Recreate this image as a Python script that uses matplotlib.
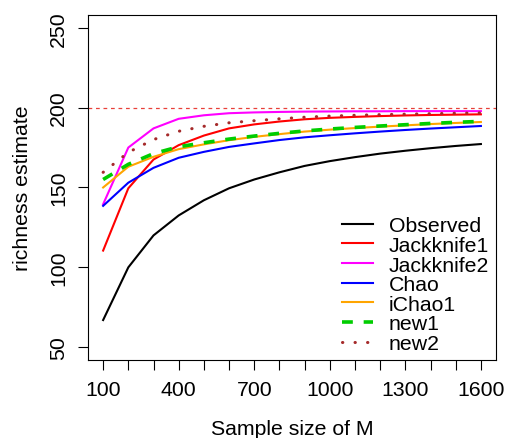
import numpy as np
import matplotlib
matplotlib.use("Agg")
import matplotlib.pyplot as plt
from matplotlib.lines import Line2D

plt.rcParams['font.family'] = ['Liberation Sans', 'DejaVu Sans']

# sample sizes
sample_size = list(range(100, 1700, 100))

observed = [67, 100, 120, 132.5, 142, 149.5, 155, 159.5, 163.5, 166.5, 169, 171.2, 173, 174.6, 176, 177.2]
jackknife1 = [110.5, 149.5, 167.5, 176.5, 182.5, 187, 189.5, 191.3, 192.7, 193.6, 194.2, 194.7, 195.1, 195.4, 195.6, 195.8]
jackknife2 = [139.5, 175, 187, 193, 195.2, 196.5, 197, 197.3, 197.5, 197.6, 197.7, 197.7, 197.8, 197.8, 197.8, 197.8]
chao = [138.5, 153, 162.3, 168.6, 172.3, 175.4, 177.6, 179.7, 181.4, 182.7, 183.9, 185, 186, 186.9, 187.7, 188.5]
ichao1 = [150, 163, 169.2, 174, 177, 179.6, 181.7, 183.4, 185, 186.2, 187.2, 188.1, 188.9, 189.7, 190.4, 191]
new1 = [155, 164.5, 171.2, 175.5, 178, 180.3, 182.2, 183.9, 185.4, 186.6, 187.6, 188.5, 189.3, 190.1, 190.8, 191.4]
new2 = [159.5, 172, 180, 185.2, 188.3, 190.5, 191.8, 193, 194, 194.7, 195.2, 195.6, 195.9, 196.2, 196.5, 196.7]

true_richness = 200
fs = 15.3

fig = plt.figure(figsize=(5.05, 4.39), dpi=100)
ax = fig.add_axes([0.1743, 0.1777, 0.8079, 0.7859])

ax.axhline(true_richness, color='#E8403A', lw=0.9, ls=(0, (3, 3)))

ax.plot(sample_size, observed, color='black', lw=1.5)
ax.plot(sample_size, jackknife1, color='#FF0000', lw=1.5)
ax.plot(sample_size, jackknife2, color='#FF00FF', lw=1.5)
ax.plot(sample_size, chao, color='#0000FF', lw=1.5)
ax.plot(sample_size, ichao1, color='#FFA500', lw=1.5)
ax.plot(sample_size, new1, color='#00CD00', lw=2.6, ls=(0, (3, 3)))
ax.plot(sample_size, new2, color='#A52A2A', lw=2.2, ls=(0, (0.1, 4.0)), dash_capstyle='round')

ax.set_xlim(40, 1660)
ax.set_ylim(42, 258)

ax.set_xticks(sample_size)
ax.set_xticklabels([str(s) if (s - 100) % 300 == 0 else '' for s in sample_size])
ax.set_yticks([50, 100, 150, 200, 250])
ax.set_yticklabels(['50', '100', '150', '200', '250'], rotation=90, va='center')

ax.tick_params(direction='out', length=7, width=0.8, labelsize=fs, pad=7.5)
for sp in ax.spines.values():
    sp.set_linewidth(0.8)

ax.set_xlabel('Sample size of M', fontsize=fs, labelpad=14)
ax.set_ylabel('richness estimate', fontsize=fs, labelpad=12)

handles = [
    Line2D([], [], color='black', lw=1.5),
    Line2D([], [], color='#FF0000', lw=1.5),
    Line2D([], [], color='#FF00FF', lw=1.5),
    Line2D([], [], color='#0000FF', lw=1.5),
    Line2D([], [], color='#FFA500', lw=1.5),
    Line2D([], [], color='#00CD00', lw=2.6, ls=(0, (3, 3))),
    Line2D([], [], color='#A52A2A', lw=2.2, ls=(0, (0.1, 4.0)), dash_capstyle='round'),
]
labels = ['Observed', 'Jackknife1', 'Jackknife2', 'Chao', 'iChao1', 'new1', 'new2']
ax.legend(handles, labels, loc='lower right', bbox_to_anchor=(0.983, 0.02),
          frameon=False, fontsize=fs, handlelength=1.45, handletextpad=0.75,
          labelspacing=0.03, borderaxespad=0, borderpad=0)

fig.savefig('out.png', dpi=100)
